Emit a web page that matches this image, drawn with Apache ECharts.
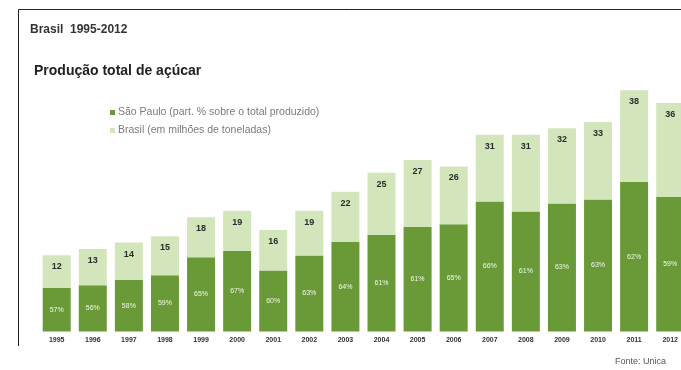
<!DOCTYPE html>
<html>
<head>
<meta charset="utf-8">
<script src="https://cdn.jsdelivr.net/npm/echarts@6/dist/echarts.min.js"></script>
<style>
  html, body { margin: 0; padding: 0; background: #ffffff; overflow: hidden; }
  #chart { width: 681px; height: 370px; }
</style>
</head>
<body>
<div id="chart"></div>
<script>
// Produção total de açúcar no Brasil e participação de São Paulo
const years = ['1995','1996','1997','1998','1999','2000','2001','2002','2003',
               '2004','2005','2006','2007','2008','2009','2010','2011','2012'];
// Brasil, em milhões de toneladas
const totalBrasil = [12, 13, 14, 15, 18, 19, 16, 19, 22, 25, 27, 26, 31, 31, 32, 33, 38, 36];
// São Paulo, participação % sobre o total produzido
const partSP = [57, 56, 58, 59, 65, 67, 60, 63, 64, 61, 61, 65, 66, 61, 63, 63, 62, 59];

// stacked parts: São Paulo volume + rest of Brazil
const spVol = totalBrasil.map((t, i) => +(t * partSP[i] / 100).toFixed(2));
const restVol = totalBrasil.map((t, i) => +(t - spVol[i]).toFixed(2));

const DARK = '#6a9a38';
const LIGHT = '#d3e5bb';
const FONT = '"Liberation Sans", "DejaVu Sans", sans-serif';

const chart = echarts.init(document.getElementById('chart'), null, { renderer: 'canvas' });
chart.setOption({
  animation: false,
  backgroundColor: '#ffffff',
  textStyle: { fontFamily: FONT },
  // columns sit on the ticks; the last one runs past the right edge and is cut off
  grid: { left: 56.7, right: 3.5, top: 77.5, height: 254, containLabel: false },
  xAxis: {
    type: 'category',
    data: years,
    boundaryGap: false,
    axisLine: { show: false },
    axisTick: { show: false },
    axisLabel: { color: '#333', fontSize: 7, fontWeight: 'bold', margin: 5 }
  },
  yAxis: {
    type: 'value', min: 0, max: 40,
    show: false,
    splitLine: { show: false }
  },
  series: [
    {
      name: 'São Paulo',
      type: 'bar', stack: 'total', barWidth: 28, clip: false,
      data: spVol,
      itemStyle: { color: DARK },
      label: {
        show: true, position: 'inside', color: '#f2f7ea', fontSize: 7,
        formatter: p => partSP[p.dataIndex] + '%'
      }
    },
    {
      name: 'Brasil',
      type: 'bar', stack: 'total', barWidth: 28, clip: false,
      data: restVol,
      itemStyle: { color: LIGHT },
      label: {
        show: true, position: 'insideTop', distance: 7, color: '#2b2b2b',
        fontSize: 9, fontWeight: 'bold',
        formatter: p => String(totalBrasil[p.dataIndex])
      }
    }
  ],
  graphic: [
    { type: 'line', shape: { x1: 18.5, y1: 9.5, x2: 681, y2: 9.5 },
      style: { stroke: '#222', lineWidth: 1 } },
    { type: 'line', shape: { x1: 18.5, y1: 9.5, x2: 18.5, y2: 346 },
      style: { stroke: '#222', lineWidth: 1 } },
    { type: 'text', left: 30, top: 24,
      style: { text: 'Brasil  1995-2012', font: 'bold 12px ' + FONT, fill: '#333' } },
    { type: 'text', left: 34, top: 64,
      style: { text: 'Produção total de açúcar', font: 'bold 14px ' + FONT, fill: '#222' } },
    { type: 'rect', shape: { x: 110, y: 110, width: 5, height: 5 }, style: { fill: DARK } },
    { type: 'text', left: 118, top: 107,
      style: { text: 'São Paulo (part. % sobre o total produzido)', font: '10.5px ' + FONT, fill: '#7a7a7a' } },
    { type: 'rect', shape: { x: 110, y: 128, width: 5, height: 5 }, style: { fill: LIGHT } },
    { type: 'text', left: 118, top: 125,
      style: { text: 'Brasil (em milhões de toneladas)', font: '10.5px ' + FONT, fill: '#7a7a7a' } },
    { type: 'text', left: 615, top: 357,
      style: { text: 'Fonte: Unica', font: '9px ' + FONT, fill: '#555' } }
  ]
});
</script>
</body>
</html>
